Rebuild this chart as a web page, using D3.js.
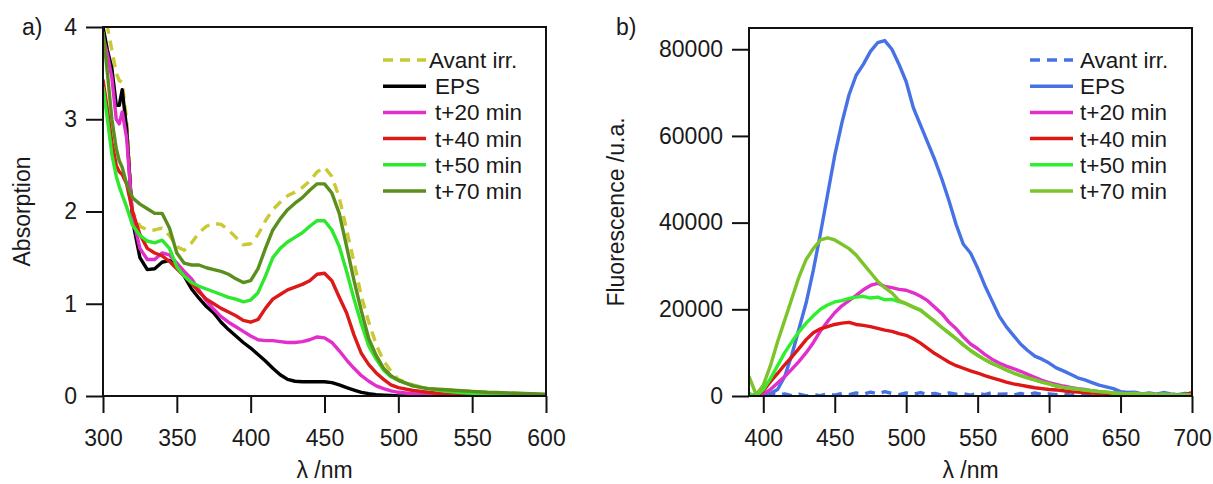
<!DOCTYPE html>
<html><head><meta charset="utf-8">
<script src="https://cdn.jsdelivr.net/npm/d3@7"></script>
<style>
body{margin:0;background:#fff}
text{font-family:Arial,"Liberation Sans",sans-serif;fill:#1a1a1a}
</style>
</head><body><svg id="c" width="1213" height="484"></svg>
<script>
// ---------- Panel a: absorption ----------
const absWl = [300,303,306,309,311,313,316,320,325,330,335,340,345,350,355,360,365,370,375,380,385,390,395,400,405,410,415,420,425,430,435,440,445,450,455,460,465,470,475,480,485,490,495,500,510,520,530,540,550,560,580,600];
const absAvant = [4.4,4.0,3.75,3.5,3.42,3.4,3.0,2.0,1.84,1.8,1.8,1.82,1.74,1.62,1.58,1.66,1.77,1.84,1.87,1.86,1.8,1.72,1.64,1.65,1.75,1.9,2.02,2.1,2.17,2.21,2.26,2.33,2.43,2.48,2.38,2.15,1.8,1.45,1.08,0.8,0.56,0.38,0.27,0.18,0.12,0.08,0.07,0.06,0.05,0.04,0.03,0.02];
const absEPS   = [4.0,3.75,3.55,3.15,3.15,3.32,2.9,1.9,1.5,1.37,1.38,1.45,1.47,1.42,1.3,1.16,1.06,0.97,0.9,0.8,0.72,0.65,0.58,0.52,0.45,0.38,0.3,0.23,0.18,0.16,0.155,0.155,0.155,0.155,0.145,0.12,0.09,0.065,0.04,0.025,0.015,0.01,0.005,0,0,0,0,0,0,0,0,0];
const abs20    = [3.9,3.7,3.45,3.0,2.95,3.08,2.8,1.95,1.6,1.48,1.48,1.55,1.53,1.44,1.35,1.27,1.15,1.03,0.94,0.86,0.8,0.75,0.7,0.65,0.61,0.6,0.6,0.59,0.58,0.58,0.59,0.61,0.64,0.63,0.58,0.49,0.39,0.3,0.22,0.16,0.11,0.08,0.055,0.04,0.025,0.015,0.01,0.008,0.005,0.003,0,0];
const abs40    = [3.43,3.1,2.75,2.5,2.43,2.4,2.3,2.0,1.75,1.6,1.55,1.52,1.46,1.38,1.3,1.22,1.13,1.05,1.0,0.95,0.91,0.87,0.82,0.8,0.83,0.95,1.05,1.1,1.15,1.18,1.21,1.25,1.32,1.33,1.25,1.07,0.9,0.66,0.46,0.34,0.25,0.18,0.12,0.09,0.06,0.04,0.025,0.02,0.015,0.01,0.005,0];
const abs50    = [3.35,3.0,2.62,2.38,2.27,2.18,2.05,1.85,1.74,1.68,1.66,1.69,1.6,1.4,1.3,1.23,1.19,1.16,1.13,1.1,1.07,1.05,1.02,1.04,1.12,1.3,1.5,1.6,1.67,1.72,1.77,1.84,1.9,1.9,1.8,1.62,1.35,1.05,0.78,0.54,0.4,0.28,0.21,0.17,0.11,0.08,0.055,0.04,0.03,0.02,0.01,0.005];
const abs70    = [3.95,3.5,3.0,2.68,2.55,2.48,2.3,2.15,2.08,2.03,1.98,1.98,1.82,1.55,1.44,1.42,1.42,1.39,1.37,1.35,1.32,1.27,1.23,1.25,1.38,1.6,1.8,1.92,2.02,2.09,2.15,2.23,2.3,2.3,2.2,1.98,1.62,1.25,0.92,0.62,0.44,0.3,0.22,0.17,0.11,0.08,0.07,0.06,0.05,0.04,0.03,0.02];
const absXTicks = [300,350,400,450,500,550,600];
const absYTicks = [0,1,2,3,4];

// ---------- Panel b: fluorescence ----------
const fluoWl = [390,395,400,405,410,415,420,425,430,435,440,445,450,455,460,465,470,475,480,485,490,495,500,505,510,515,520,525,530,535,540,545,550,555,560,565,570,575,580,585,590,595,600,605,610,615,620,625,630,635,640,645,650,655,660,665,670,675,680,685,690,695,700];
const fluoAvant = [0,300,0,600,200,500,100,400,0,300,100,500,200,600,300,700,400,900,500,1000,600,300,700,400,800,300,600,200,700,400,500,200,600,300,800,400,500,200,600,300,700,400,500,300,600,200,500,300,600,200,400,300,500,200,400,300,500,200,400,300,400,200,300];
const fluoEPS = [500,0,200,600,1500,4500,9500,15500,21500,29000,37500,46500,55500,63000,69500,74000,76500,79500,81500,82000,80000,76500,72500,66500,62500,58500,54500,50000,45000,39500,35000,33000,29500,25500,22000,18500,16000,14000,12000,10500,9200,8500,7600,6500,5800,5000,4200,3700,3100,2500,2100,1700,1000,800,900,500,700,400,800,500,300,600,400];
const fluo20 = [0,0,500,1500,3000,4500,6200,8000,10000,12300,15000,17200,19200,20800,22000,23200,24500,25500,26000,25300,25000,24600,24400,23800,23000,22000,20500,19000,17000,15500,13600,12000,10900,9600,8500,7600,6900,6300,5700,5000,4300,3600,3100,2700,2300,2000,1700,1500,1200,1000,800,700,600,400,500,300,400,300,200,300,200,100,200];
const fluo40 = [0,0,1200,3300,5200,7200,9000,11000,13000,14600,15500,16000,16500,16800,17000,16500,16300,16000,15600,15200,14900,14400,14000,13200,12200,11000,9800,8800,7800,7000,6400,5800,5300,4700,4200,3700,3200,2800,2500,2200,1900,1700,1500,1400,1200,1000,900,800,700,600,500,500,400,300,400,300,200,300,200,300,200,300,800];
const fluo50 = [500,0,1500,4000,7000,10000,12500,14800,16800,18500,20000,21000,21700,22000,22500,22800,23000,22600,22800,22200,22300,21800,21300,20500,19800,18500,17200,15800,14500,13200,11800,10500,9400,8400,7500,6800,6000,5300,4700,4200,3700,3200,2800,2300,2000,1800,1600,1400,1200,1000,900,700,600,500,600,400,500,300,400,300,200,300,200];
const fluo70 = [4500,300,2500,7000,12500,17500,22500,27500,31500,34000,36000,36500,36000,35000,34000,32500,30500,28500,26500,25000,23800,22000,21300,20500,19800,18500,17200,15800,14500,13200,11800,10500,9400,8400,7500,6800,6000,5300,4700,4200,3700,3200,2800,2300,2000,1800,1600,1300,1200,1000,900,700,600,500,600,400,500,300,400,300,200,300,200];
const fluoXTicks = [400,450,500,550,600,650,700];
const fluoYTicks = [0,20000,40000,60000,80000];

const legendLabels = ["Avant irr.","EPS","t+20 min","t+40 min","t+50 min","t+70 min"];
const absColors  = ["#c9c934","#000000","#e22ecb","#dd1a1a","#2ee82e","#5a8f1e"];
const fluoColors = ["#4672e6","#4672e6","#e22ecb","#e01515","#2ef02e","#7cc42a"];

const svg = d3.select("#c");
const FS = 23;

function panel(o){
  const g = svg.append("g");
  const x = d3.scaleLinear().domain(o.xDom).range([o.left,o.right]);
  const y = d3.scaleLinear().domain(o.yDom).range([o.bottom,o.top]);
  const clipId = "clip"+o.id;
  svg.append("clipPath").attr("id",clipId).append("rect")
    .attr("x",o.left).attr("y",o.top).attr("width",o.right-o.left).attr("height",o.bottom-o.top);
  const line = d3.line().x((d,i)=>x(o.xs[i])).y(d=>y(d));
  o.series.forEach((s,i)=>{
    g.append("path").datum(s).attr("clip-path",`url(#${clipId})`)
      .attr("d",line).attr("fill","none").attr("stroke",o.colors[i])
      .attr("stroke-width",3.4).attr("stroke-linejoin","round")
      .attr("stroke-dasharray",i===0?"10,7":null);
  });
  // frame
  g.append("rect").attr("x",o.left).attr("y",o.top).attr("width",o.right-o.left).attr("height",o.bottom-o.top)
    .attr("fill","none").attr("stroke","#111").attr("stroke-width",2);
  const xa = g.append("g").attr("transform",`translate(0,${o.bottom})`)
    .call(d3.axisBottom(x).tickValues(o.xTicks).tickSize(17).tickSizeOuter(0).tickPadding(17).tickFormat(d3.format("d")));
  const ya = g.append("g").attr("transform",`translate(${o.left},0)`)
    .call(d3.axisLeft(y).tickValues(o.yTicks).tickSize(17).tickSizeOuter(0).tickPadding(9).tickFormat(d3.format("d")));
  [xa,ya].forEach(a=>{
    a.select(".domain").remove();
    a.selectAll("line").attr("stroke","#111").attr("stroke-width",2);
    a.selectAll("text").attr("font-size",FS).attr("font-family","Arial,'Liberation Sans',sans-serif").attr("fill","#1a1a1a");
  });
  // titles
  g.append("text").attr("x",(o.left+o.right)/2).attr("y",478).attr("text-anchor","middle").attr("font-size",FS).text("λ /nm");
  g.append("text").attr("transform",`translate(${o.yTitleX},${(o.top+o.bottom)/2}) rotate(-90)`)
    .attr("text-anchor","middle").attr("font-size",FS).text(o.yTitle);
  g.append("text").attr("x",o.tagX).attr("y",35).attr("font-size",FS).text(o.tag);
  // legend
  legendLabels.forEach((lab,i)=>{
    const cy = 60 + i*26.2;
    g.append("line").attr("x1",o.legX).attr("x2",o.legX+43).attr("y1",cy).attr("y2",cy)
      .attr("stroke",o.colors[i]).attr("stroke-width",3.5)
      .attr("stroke-dasharray",i===0?"10,7":null);
    g.append("text").attr("x",o.legTX + (i===0?o.legFirstDx:0)).attr("y",cy+8).attr("font-size",FS-0.5).text(lab);
  });
}

panel({id:"a",xs:absWl,series:[absAvant,absEPS,abs20,abs40,abs50,abs70],colors:absColors,
  xDom:[300,600],yDom:[0,4],left:103,right:546,top:27,bottom:396,
  xTicks:absXTicks,yTicks:absYTicks,yTitle:"Absorption",yTitleX:30,tag:"a)",tagX:22,
  legX:383,legTX:435,legFirstDx:-6});

panel({id:"b",xs:fluoWl,series:[fluoAvant,fluoEPS,fluo20,fluo40,fluo50,fluo70],colors:fluoColors,
  xDom:[390,700],yDom:[0,84900],left:749,right:1192,top:28,bottom:396,
  xTicks:fluoXTicks,yTicks:fluoYTicks,yTitle:"Fluorescence /u.a.",yTitleX:624,tag:"b)",tagX:616,
  legX:1030,legTX:1080,legFirstDx:0});
</script>
</body></html>
